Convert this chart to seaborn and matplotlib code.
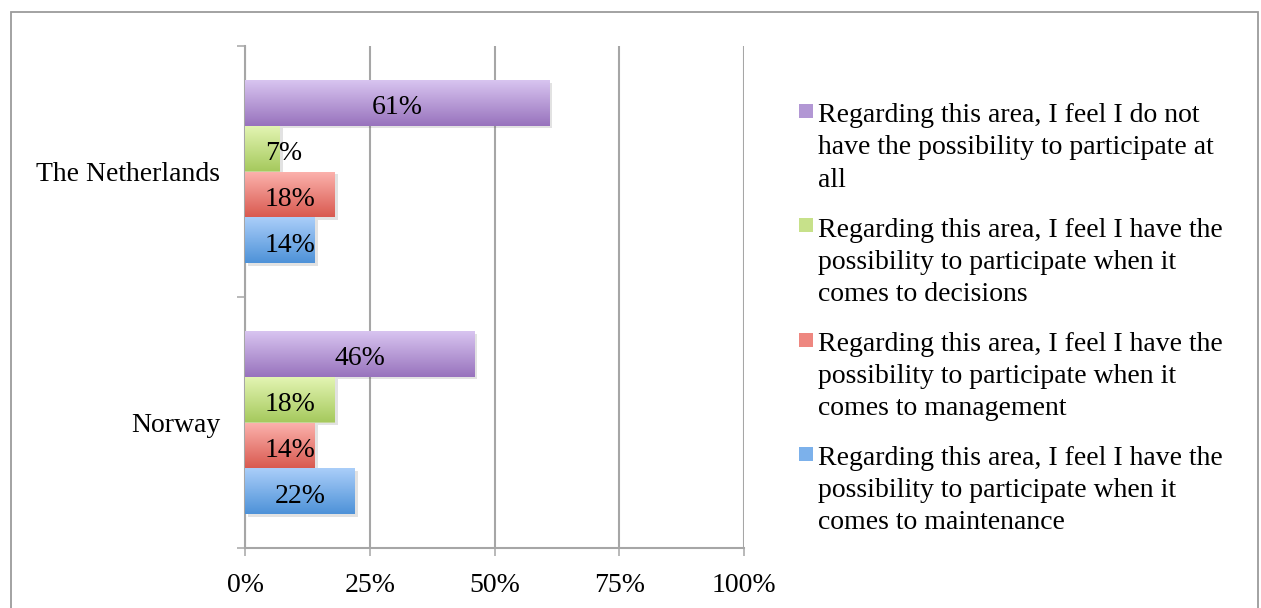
import matplotlib
matplotlib.use("Agg")
import numpy as np
import pandas as pd
import matplotlib.pyplot as plt
import seaborn as sns
from matplotlib import patheffects as pe
from matplotlib.patches import Rectangle
from matplotlib.colors import to_rgb

# ---- data -------------------------------------------------------------
countries = ["The Netherlands", "Norway"]
series_names = [
    "Regarding this area, I feel I do not have the possibility to participate at all",
    "Regarding this area, I feel I have the possibility to participate when it comes to decisions",
    "Regarding this area, I feel I have the possibility to participate when it comes to management",
    "Regarding this area, I feel I have the possibility to participate when it comes to maintenance",
]
legend_lines = [
    ["Regarding this area, I feel I do not", "have the possibility to participate at", "all"],
    ["Regarding this area, I feel I have the", "possibility to participate when it", "comes to decisions"],
    ["Regarding this area, I feel I have the", "possibility to participate when it", "comes to management"],
    ["Regarding this area, I feel I have the", "possibility to participate when it", "comes to maintenance"],
]
no_participation = [61, 46]
decisions = [7, 18]
management = [18, 14]
maintenance = [14, 22]
x_ticks = [0, 25, 50, 75, 100]
x_tick_labels = ["0%", "25%", "50%", "75%", "100%"]

# ---- style --------------------------------------------------------------
top_colors = ["#D8C4F0", "#E4F6B4", "#FCB3AE", "#AACEF9"]
bottom_colors = ["#9873BD", "#A6C95E", "#D95A50", "#4E92D8"]
mid_colors = ["#B297D4", "#C7E18A", "#EE8780", "#7CB1EB"]
grid_gray = "#A6A6A6"
FS = 20

sns.set_theme(style="white")
plt.rcParams["font.family"] = ["Liberation Serif", "DejaVu Serif"]
plt.rcParams["text.color"] = "black"
plt.rcParams["xtick.color"] = "black"
plt.rcParams["ytick.color"] = "black"

rows = []
for name, vals in zip(series_names, [no_participation, decisions, management, maintenance]):
    for c, v in zip(countries, vals):
        rows.append({"country": c, "series": name, "value": v})
df = pd.DataFrame(rows)

W, H = 1261, 608
fig = plt.figure(figsize=(W / 100, H / 100), dpi=100)
ax = fig.add_axes([245 / W, 1 - 548 / H, (744 - 245) / W, (548 - 46) / H])

sns.barplot(
    data=df, x="value", y="country", hue="series",
    order=countries, hue_order=series_names, palette=mid_colors,
    orient="h", width=0.73, errorbar=None, legend=False,
    edgecolor="none", linewidth=0, ax=ax, zorder=3,
)

ax.set_xlim(0, 100)
ax.set_ylim(1.5, -0.5)
ax.set_xlabel("")
ax.set_ylabel("")

# axes, grid and ticks
ax.set_axisbelow(True)
ax.set_xticks(x_ticks)
ax.set_xticklabels(x_tick_labels, fontsize=FS)
ax.grid(axis="x", color=grid_gray, lw=1.5)
ax.grid(axis="y", visible=False)
ax.set_yticks([-0.5, 0.5, 1.5])
ax.set_yticklabels([])
ax.set_yticks([0, 1], minor=True)
ax.set_yticklabels(countries, minor=True, fontsize=FS)
ax.tick_params(axis="y", which="minor", left=True, length=0, pad=18)
ax.tick_params(axis="y", which="major", left=True, length=5.8, width=1.1,
               color=grid_gray, direction="out")
ax.tick_params(axis="x", bottom=True, length=5.8, width=1.1, color=grid_gray,
               direction="out", pad=12)
for side in ["top", "right"]:
    ax.spines[side].set_visible(False)
for side in ["left", "bottom"]:
    ax.spines[side].set_color(grid_gray)
    ax.spines[side].set_linewidth(1.5)

# gradient fill and soft shadow on each bar
labels = []
for i, cont in enumerate(ax.containers):
    grad = np.linspace(to_rgb(top_colors[i]), to_rgb(bottom_colors[i]), 64).reshape(64, 1, 3)
    for p in cont:
        x0, w = p.get_x(), p.get_width()
        y0, h = p.get_y(), p.get_height()
        p.set_path_effects([
            pe.SimplePatchShadow(offset=(2, -2), shadow_rgbFace=(0.3, 0.3, 0.3), alpha=0.16),
            pe.Normal(),
        ])
        im = ax.imshow(grad, extent=[x0, x0 + w, y0 + h, y0], origin="upper",
                       aspect="auto", interpolation="bilinear", zorder=3.1)
        im.set_clip_path(p)
        t = ax.annotate(f"{w:.0f}%", xy=(w / 2, y0 + h / 2), xytext=(0, -8.3),
                        textcoords="offset points", ha="center", va="baseline",
                        fontsize=FS, zorder=5)
        labels.append((t, y0 + h / 2))

ax.set_xlim(0, 100)
ax.set_ylim(1.5, -0.5)

# keep short-bar labels clear of the axis line
fig.canvas.draw()
renderer = fig.canvas.get_renderer()
min_left = ax.transData.transform((4, 0))[0]
for t, yc in labels:
    bb = t.get_window_extent(renderer)
    if bb.x0 < min_left:
        t.xy = (4, yc)
        t.set_ha("left")

# legend with top-aligned markers and wrapped text
for i, lines in enumerate(legend_lines):
    base = 122.5 + i * 114.3
    for j, line in enumerate(lines):
        fig.text(818 / W, 1 - (base + j * 32) / H, line, ha="left", va="baseline", fontsize=FS)
    fig.add_artist(Rectangle((799 / W, 1 - (base - 4.5) / H), 14 / W, 14 / H,
                             transform=fig.transFigure, facecolor=mid_colors[i], edgecolor="none"))

# chart frame
fig.add_artist(Rectangle((11 / W, -0.05), (1258 - 11) / W, 1 - 12 / H + 0.05,
                         transform=fig.transFigure, fill=False, edgecolor="#9B9B9B", lw=1.3))

fig.savefig("out.png", dpi=100)
